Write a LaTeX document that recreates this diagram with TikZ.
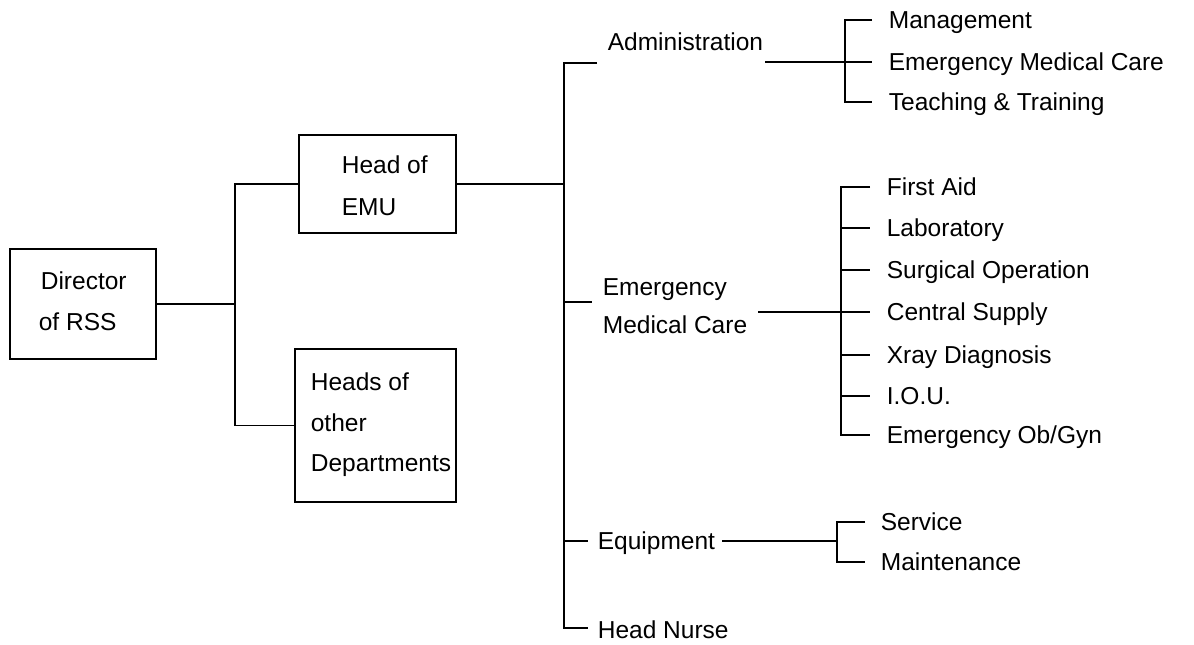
\documentclass[tikz,border=0pt]{standalone}
\usepackage{fontspec}
\setmainfont{Liberation Sans}
\begin{document}
\begin{tikzpicture}[x=1pt,y=-1pt,line width=1.7pt,
  lbl/.style={anchor=west,inner sep=0pt,text height=17.5pt,text depth=0pt,
    font=\fontsize{24.5}{29}\selectfont},
  boxn/.style={draw,rectangle,inner sep=0pt,line width=1.7pt}]
\useasboundingbox (0,0) rectangle (1194,645);
% boxes
\node[boxn,minimum width=146pt,minimum height=110pt] (dir) at (83,304) {};
\node[boxn,minimum width=157pt,minimum height=98pt] (emu) at (377.5,184) {};
\node[boxn,minimum width=161pt,minimum height=153pt] (heads) at (375.5,425.5) {};
\node[lbl] (dirA) at (40,281) {Director};
\node[lbl] (dirB) at (38,322) {of RSS};
\node[lbl] (emuA) at (341,165) {Head of};
\node[lbl] (emuB) at (341,207) {EMU};
\node[lbl] (hdA) at (310,382) {Heads of};
\node[lbl] (hdB) at (310,423) {other};
\node[lbl] (hdC) at (310,463) {Departments};
% first junction
\coordinate (j1) at (235,304);
\draw (dir.east) -- (dir.east -| j1);
\draw (emu.west) -- (emu.west -| j1) -- (heads.west -| j1) -- (heads.west);
% main spine
\coordinate (mt) at (564,63);
\coordinate (mb) at (564,628);
\coordinate (admT) at (597,63);
\coordinate (nurseT) at (588,628);
\draw (emu.east) -- (emu.east -| mt);
\draw (admT) -- (mt) -- (mb) -- (nurseT);
\coordinate (emcT) at (592,302);
\coordinate (eqT) at (588,541);
\draw (emcT -| mt) -- (emcT);
\draw (eqT -| mt) -- (eqT);
\node[lbl] (adm) at (607,42) {Administration};
\node[lbl] (emc1) at (602,287) {Emergency};
\node[lbl] (emc2) at (602,325) {Medical Care};
\node[lbl] (equip) at (597,541) {Equipment};
\node[lbl] (nurse) at (597,630) {Head Nurse};
% group 1
\node[lbl] (mgmt) at (888,20) {Management};
\node[lbl] (emcA) at (888,62) {Emergency Medical Care};
\node[lbl] (teach) at (888,102) {Teaching \& Training};
\draw ([xshift=-16pt]mgmt.west) -| ([xshift=-43pt]teach.west) -- ([xshift=-16pt]teach.west);
\coordinate (admL) at (765,62);
\draw (admL) -- ([xshift=-16pt]emcA.west);
% group 2
\node[lbl] (aid) at (886,187) {First Aid};
\node[lbl] (lab) at (886,228) {Laboratory};
\node[lbl] (surg) at (886,270) {Surgical Operation};
\node[lbl] (cent) at (886,312) {Central Supply};
\node[lbl] (xray) at (886,355) {Xray Diagnosis};
\node[lbl] (iou) at (886,396) {I.O.U.};
\node[lbl] (obgyn) at (886,435) {Emergency Ob/Gyn};
\draw ([xshift=-16pt]aid.west) -| ([xshift=-45pt]obgyn.west) -- ([xshift=-16pt]obgyn.west);
\foreach \n in {lab,surg,xray,iou}
  \draw ([xshift=-45pt]\n.west) -- ([xshift=-16pt]\n.west);
\coordinate (emcL) at (758,312);
\draw (emcL) -- ([xshift=-16pt]cent.west);
% group 3
\node[lbl] (serv) at (880,522) {Service};
\node[lbl] (maint) at (880,562) {Maintenance};
\draw ([xshift=-15pt]serv.west) -| ([xshift=-43pt]maint.west) -- ([xshift=-15pt]maint.west);
\coordinate (eqL) at (722,541);
\draw (eqL) -- ([xshift=-43pt]serv.west |- eqL);
\end{tikzpicture}
\end{document}
